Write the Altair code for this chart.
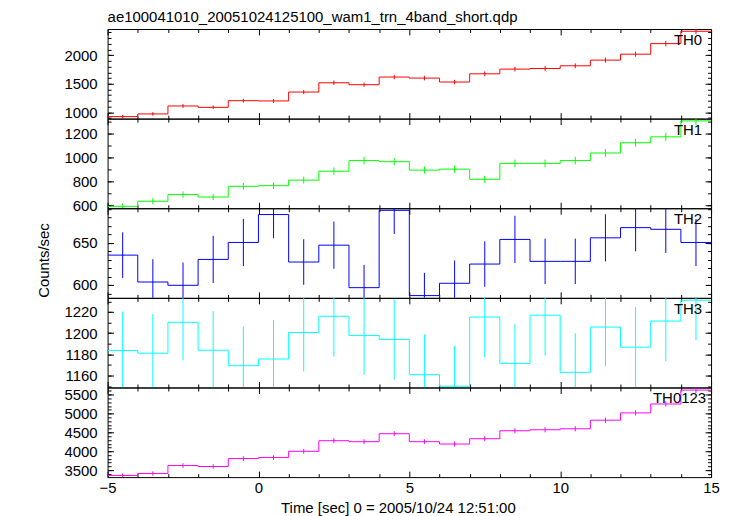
import altair as alt
import pandas as pd

TITLE = "ae100041010_20051024125100_wam1_trn_4band_short.qdp"
X_TITLE = "Time [sec] 0 = 2005/10/24 12:51:00"
Y_TITLE = "Counts/sec"

BIN_EDGES = [-5, -4, -3, -2, -1, 0, 1, 2, 3, 4, 5, 6, 7, 8, 9, 10, 11, 12, 13, 14, 15]
BIN_CENTERS = [-4.5, -3.5, -2.5, -1.5, -0.5, 0.5, 1.5, 2.5, 3.5, 4.5,
               5.5, 6.5, 7.5, 8.5, 9.5, 10.5, 11.5, 12.5, 13.5, 14.5]
X_DOMAIN = [-5, 15]
X_MAJOR = [-5, 0, 5, 10, 15]
X_MINOR = [-4, -3, -2, -1, 1, 2, 3, 4, 6, 7, 8, 9, 11, 12, 13, 14]

NAMES = ["TH0", "TH1", "TH2", "TH3", "TH0123"]
COLORS = ["#ff0000", "#00ff00", "#0000ff", "#00ffff", "#ff00ff"]

TH0 = [925, 972, 1111, 1087, 1204, 1199, 1355, 1517, 1483, 1617,
       1599, 1530, 1674, 1756, 1767, 1814, 1913, 2017, 2202, 2418]
TH0_ERR = [31, 31, 33, 33, 35, 35, 37, 39, 38, 40, 40, 39, 41, 42, 42, 42, 44, 45, 47, 49]

TH1 = [594, 636, 691, 671, 760, 765, 811, 885, 973, 964,
       894, 902, 818, 950, 950, 973, 1036, 1121, 1170, 1302]
TH1_ERR = [24, 25, 26, 26, 28, 28, 28, 30, 31, 31, 30, 30, 29, 31, 31, 31, 32, 33, 34, 36]

TH2 = [635.4, 603.5, 599.6, 630.3, 650.4, 683.5, 627.2, 647.2, 596.8, 688.5,
       587.4, 602.0, 624.8, 654.0, 628.0, 628.0, 655.9, 668.0, 666.0, 650.4]
TH2_ERR = [27, 27, 27, 28, 28, 28, 27, 28, 27, 28, 27, 27, 27, 28, 27, 27, 28, 28, 28, 28]

TH3 = [1183.5, 1181.0, 1210.2, 1183.8, 1169.2, 1175.5, 1200.6, 1215.9, 1197.8, 1194.0,
       1160.7, 1149.8, 1215.2, 1171.4, 1216.9, 1162.9, 1205.7, 1186.7, 1211.4, 1231.1]
TH3_ERR = [37, 37, 36, 37, 37, 37, 37, 38, 37, 38, 38, 38, 38, 37, 38, 37, 37, 38, 38, 38]

TH0123 = [3360, 3413, 3623, 3597, 3808, 3834, 4000, 4281, 4255, 4466,
          4255, 4193, 4334, 4545, 4571, 4597, 4825, 5018, 5255, 5623]
TH0123_ERR = [58, 58, 60, 60, 62, 62, 63, 65, 65, 67, 65, 65, 66, 67, 68, 68, 69, 71, 72, 75]

VALUES = [TH0, TH1, TH2, TH3, TH0123]
ERRORS = [TH0_ERR, TH1_ERR, TH2_ERR, TH3_ERR, TH0123_ERR]

Y_DOMAINS = [[890, 2458], [578, 1321], [584.7, 691], [1148.6, 1233.3], [3316, 5692]]
Y_MAJOR = [[1000, 1500, 2000], [600, 800, 1000, 1200], [600, 650],
           [1160, 1180, 1200, 1220], [3500, 4000, 4500, 5000, 5500]]
Y_MINOR = [list(range(900, 2500, 100)), list(range(600, 1400, 100)), list(range(590, 700, 10)),
           list(range(1150, 1240, 10)), list(range(3400, 5700, 100))]

W, H = 606, 90
FONT = "Liberation Sans"
FS = 15
MAJOR_TICK = 6
MINOR_TICK = 3.5
LABEL_RIGHT_INSET = [9, 9, 9, 9, 5]


def axis(orient, values, size, **extra):
    opts = dict(orient=orient, values=values, tickSize={"expr": str(-size)},
                domain=False, grid=False, labels=False, title=None, labelFlush=False,
                format="d")
    opts.update(extra)
    return alt.Axis(**opts)


def panel(i):
    last = i == len(NAMES) - 1
    vals = VALUES[i]
    errs = ERRORS[i]
    step = pd.DataFrame({"t": BIN_EDGES, "v": vals + [vals[-1]]})
    bars = pd.DataFrame({"t": BIN_CENTERS,
                         "lo": [v - e for v, e in zip(vals, errs)],
                         "hi": [v + e for v, e in zip(vals, errs)]})
    xs = alt.Scale(domain=X_DOMAIN, nice=False, zero=False)
    ys = alt.Scale(domain=Y_DOMAINS[i], nice=False, zero=False)

    x_bottom_extra = {}
    if last:
        x_bottom_extra = dict(labels=True, labelBaseline="alphabetic", labelPadding=21.7,
                              title=X_TITLE, titleX=291.5, titleY=35.4,
                              titleAlign="center", titleBaseline="alphabetic")
    y_left_extra = dict(labels=True, labelPadding=16.5)
    if i == 2:
        y_left_extra.update(title=Y_TITLE, titleX=-59.5, titleY=52, titleAngle=270,
                            titleAlign="center", titleBaseline="alphabetic")

    line = alt.Chart(step).mark_line(interpolate="step-after", color=COLORS[i],
                                     strokeWidth=1, clip=True).encode(
        x=alt.X("t:Q", scale=xs, axis=axis("bottom", X_MAJOR, MAJOR_TICK, **x_bottom_extra)),
        y=alt.Y("v:Q", scale=ys, axis=axis("left", Y_MAJOR[i], MAJOR_TICK, **y_left_extra)),
    )
    err = alt.Chart(bars).mark_rule(color=COLORS[i], strokeWidth=1, clip=True).encode(
        x=alt.X("t:Q", scale=xs, axis=axis("bottom", X_MINOR, MINOR_TICK)),
        y=alt.Y("lo:Q", scale=ys, axis=axis("left", Y_MINOR[i], MINOR_TICK)),
        y2="hi:Q",
    )
    ghost1 = alt.Chart(step).mark_point(opacity=0).encode(
        x=alt.X("t:Q", scale=xs, axis=axis("top", X_MAJOR, MAJOR_TICK)),
        y=alt.Y("v:Q", scale=ys, axis=axis("right", Y_MAJOR[i], MAJOR_TICK)),
    )
    ghost2 = alt.Chart(step).mark_point(opacity=0).encode(
        x=alt.X("t:Q", scale=xs, axis=axis("top", X_MINOR, MINOR_TICK)),
        y=alt.Y("v:Q", scale=ys, axis=axis("right", Y_MINOR[i], MINOR_TICK)),
    )
    label = alt.Chart(pd.DataFrame({"name": [NAMES[i]]})).mark_text(
        align="right", baseline="alphabetic", font=FONT, fontSize=FS, color="black"
    ).encode(text="name:N", x=alt.value(W - LABEL_RIGHT_INSET[i]), y=alt.value(16))

    props = dict(width=W, height=H)
    if i == 0:
        props["title"] = alt.TitleParams(TITLE, anchor="start", frame="group", offset=4,
                                         font=FONT, fontSize=FS, fontWeight="normal",
                                         color="black")
    return alt.layer(line, err, ghost1, ghost2, label).resolve_axis(
        x="independent", y="independent").properties(**props)


chart = alt.vconcat(*[panel(i) for i in range(len(NAMES))], spacing=0, bounds="flush").properties(
    padding={"left": 28, "top": 0, "right": 5, "bottom": 5}
).configure_view(stroke="black", strokeWidth=1).configure_axis(
    labelFont=FONT, labelFontSize=FS, labelColor="black",
    titleFont=FONT, titleFontSize=FS, titleFontWeight="normal", titleColor="black",
    tickColor="black", tickWidth=1,
)

chart.save("out.html", embed_options={"renderer": "svg", "actions": False})
